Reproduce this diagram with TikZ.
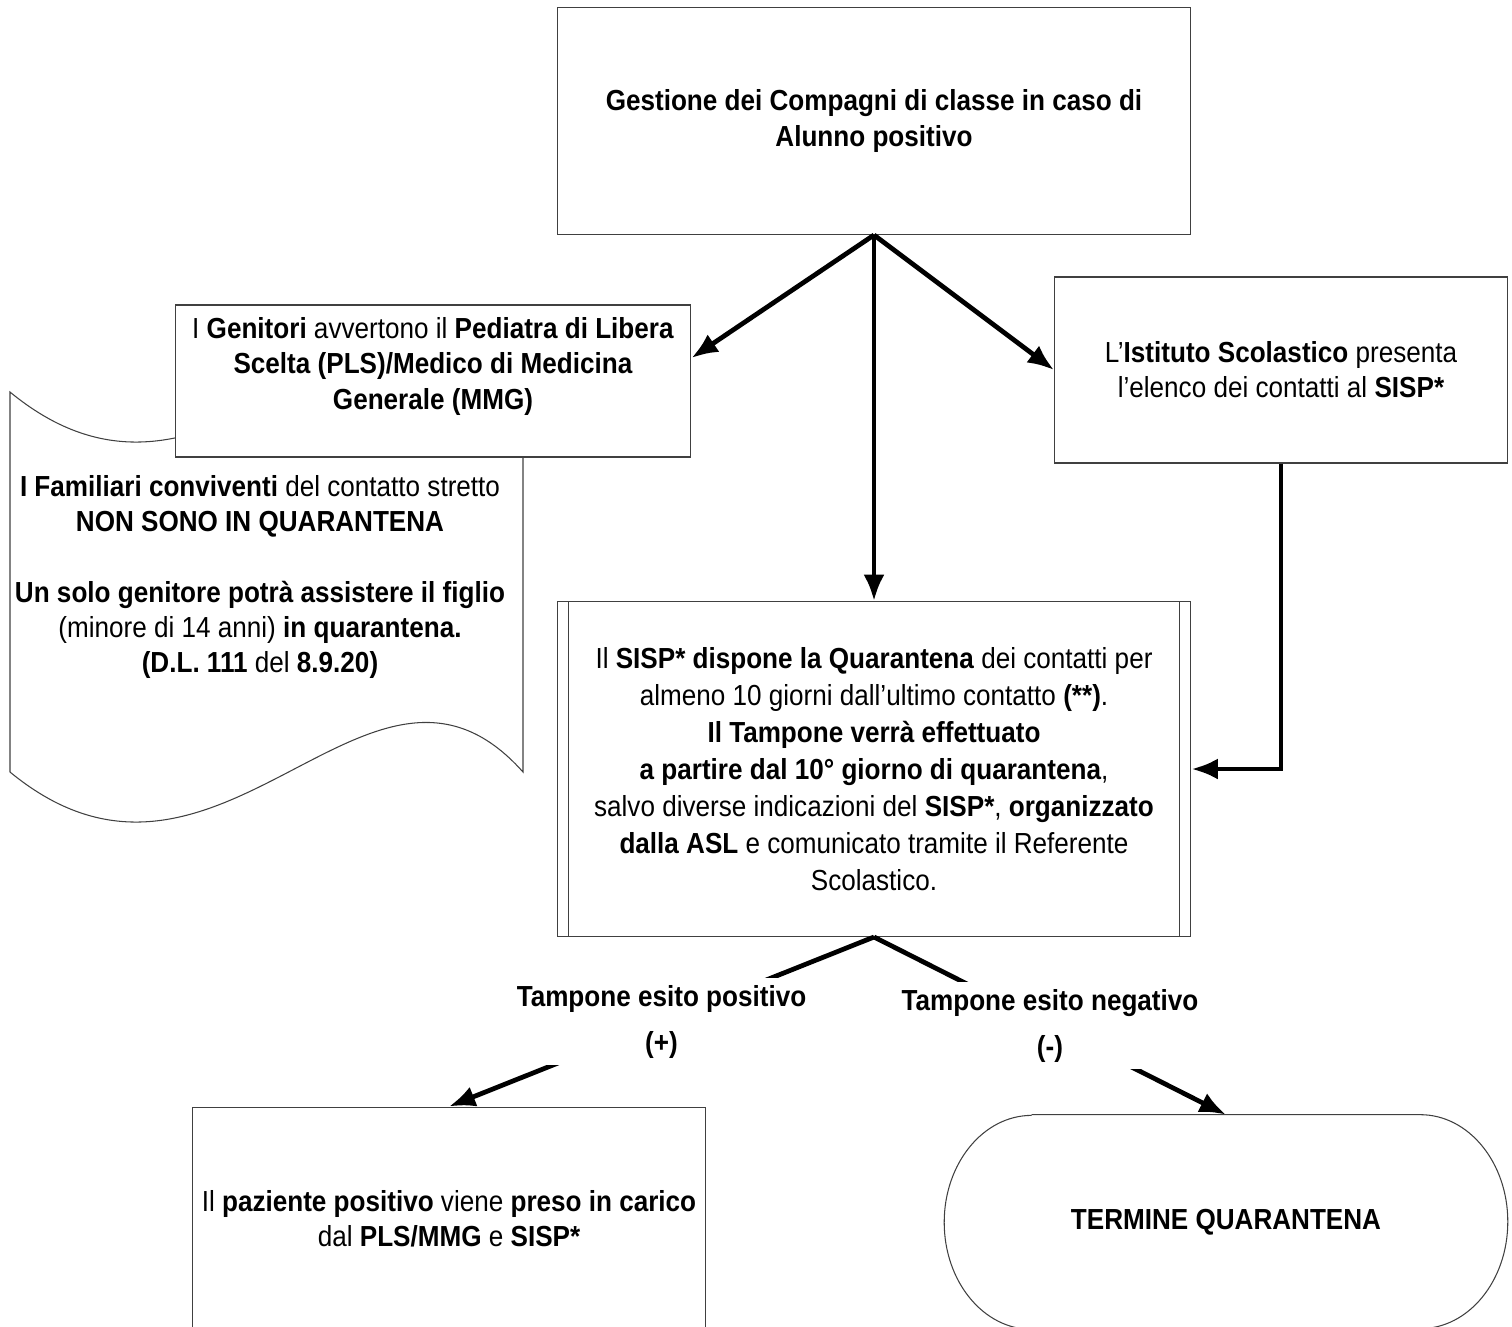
\documentclass[tikz,border=0pt]{standalone}
\usepackage{fontspec}
\setmainfont{Liberation Sans}[FakeStretch=0.9]
\usetikzlibrary{arrows.meta,positioning}

\begin{document}
\begin{tikzpicture}[x=0.02cm,y=-0.02cm,
    box/.style={draw=black!75,line width=0.6pt,fill=white,align=center,inner sep=0pt,
      font=\fontsize{16.5}{20}\selectfont},
    testo/.style={align=center,inner sep=0pt,font=\fontsize{16.5}{20}\selectfont},
    freccia/.style={line width=2.7pt,-{Latex[length=15pt,width=12pt]}},
    esito/.style={testo,fill=white,inner sep=4pt,pos=0.5}]
    \useasboundingbox (0,0) rectangle (1512,1326);
    % nastro dei familiari (sotto il box dei genitori)
    \draw[draw=black!75,line width=0.6pt] (10,392) .. controls (220,565) and (370,220) .. (523,392)
        -- (523,772) .. controls (370,600) and (220,945) .. (10,772) -- cycle;
    \node[testo] (familiari) at (260,577) {\textbf{I Familiari conviventi} del contatto stretto\\
        \textbf{NON SONO IN QUARANTENA}\\[20pt]
        \textbf{Un solo genitore potrà assistere il figlio}\\
        (minore di 14 anni) \textbf{in quarantena.}\\
        \textbf{(D.L. 111} del \textbf{8.9.20)}};
    % box
    \node[box,minimum width=12.68cm,minimum height=4.54cm] (gestione) at (874,121)
        {\textbf{Gestione dei Compagni di classe in caso di}\\\textbf{Alunno positivo}};
    \node[box,minimum width=10.32cm,minimum height=3.04cm] (genitori) at (433,381)
        {I \textbf{Genitori} avvertono il \textbf{Pediatra di Libera}\\
        \textbf{Scelta (PLS)/Medico di Medicina}\\\textbf{Generale (MMG)}\\~};
    \node[box,minimum width=9.06cm,minimum height=3.72cm] (istituto) at (1281,370)
        {L’\textbf{Istituto Scolastico} presenta\\l’elenco dei contatti al \textbf{SISP*}};
    \node[box,minimum width=12.68cm,minimum height=6.7cm,font=\fontsize{16.5}{21}\selectfont] (sisp) at (874,769)
        {Il \textbf{SISP* dispone la Quarantena} dei contatti per\\
        almeno 10 giorni dall’ultimo contatto \textbf{(**)}.\\
        \textbf{Il Tampone verrà effettuato}\\
        \textbf{a partire dal 10° giorno di quarantena},\\
        salvo diverse indicazioni del \textbf{SISP*}, \textbf{organizzato}\\
        \textbf{dalla ASL} e comunicato tramite il Referente\\
        Scolastico.};
    \draw[draw=black!75,line width=0.6pt] ([xshift=0.24cm]sisp.north west) -- ([xshift=0.24cm]sisp.south west);
    \draw[draw=black!75,line width=0.6pt] ([xshift=-0.24cm]sisp.north east) -- ([xshift=-0.24cm]sisp.south east);
    \node[box,minimum width=10.26cm,minimum height=4.48cm] (paziente) at (449,1219)
        {Il \textbf{paziente positivo} viene \textbf{preso in carico}\\dal \textbf{PLS/MMG} e \textbf{SISP*}};
    \node[testo,minimum width=11.26cm,minimum height=4.28cm] (termine) at (1226,1222)
        {\textbf{TERMINE QUARANTENA}};
    \draw[draw=black!75,line width=0.6pt] ([xshift=1.75cm]termine.north west) -- ([xshift=-1.75cm]termine.north east)
        arc[start angle=90,end angle=-90,x radius=1.75cm,y radius=2.14cm]
        -- ([xshift=1.75cm]termine.south west)
        arc[start angle=270,end angle=90,x radius=1.75cm,y radius=2.14cm];
    % frecce
    \draw[freccia] (gestione.south) -- ([yshift=0.46cm]genitori.east);
    \draw[freccia] (gestione.south) -- (sisp.north);
    \draw[freccia] (gestione.south) -- (istituto.west);
    \draw[freccia] (istituto.south) |- (sisp.east);
    \draw[freccia] (sisp.south) -- node[esito] (positivo) {\textbf{Tampone esito positivo}\\[6pt]\textbf{(+)}} (paziente.north);
    \draw[freccia] (sisp.south) -- node[esito] (negativo) {\textbf{Tampone esito negativo}\\[6pt]\textbf{(-)}} (termine.north);
\end{tikzpicture}
\end{document}
